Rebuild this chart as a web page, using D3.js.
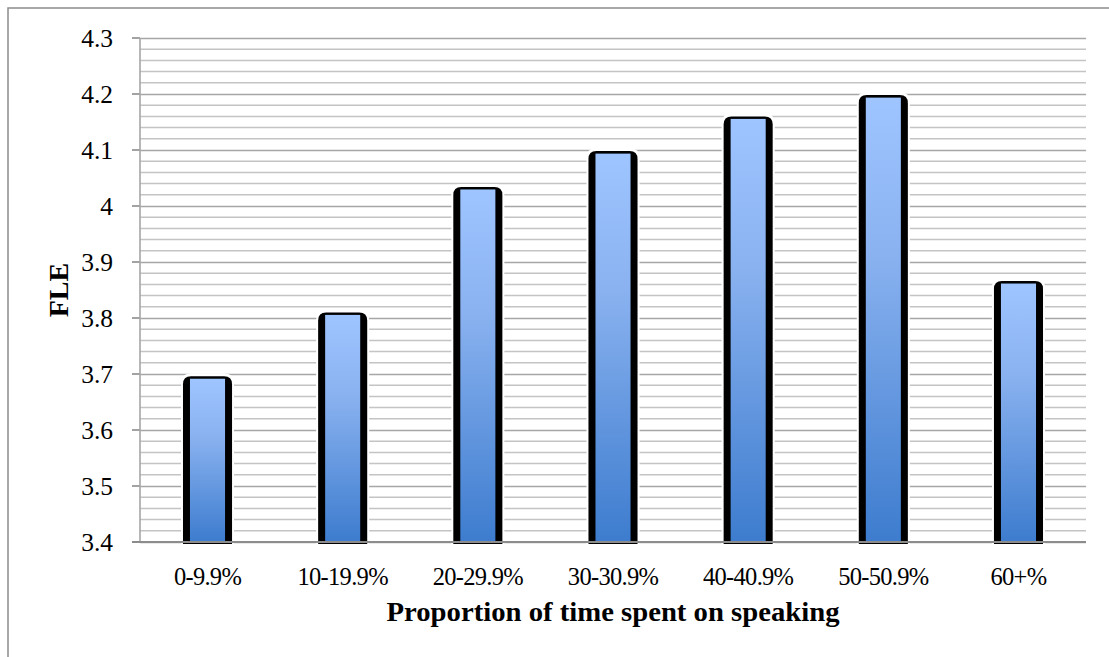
<!DOCTYPE html>
<html><head><meta charset="utf-8">
<script src="https://cdn.jsdelivr.net/npm/d3@7"></script>
<style>body{margin:0;background:#fff}</style>
</head><body>
<svg id="c" width="1109" height="657"></svg>
<script>
const categories = ["0-9.9%","10-19.9%","20-29.9%","30-30.9%","40-40.9%","50-50.9%","60+%"];
const values = [3.696, 3.81, 4.034, 4.098, 4.16, 4.198, 3.866];
const yTicks = [3.4,3.5,3.6,3.7,3.8,3.9,4,4.1,4.2,4.3];
const yTitle = "FLE";
const xTitle = "Proportion of time spent on speaking";

const svg = d3.select("#c");
const W = 1109, H = 657;
const m = {left:140, right:1086, top:38, bottom:542};
const font = "'Liberation Serif', 'Times New Roman', serif";

svg.append("rect").attr("x",0).attr("y",0).attr("width",W).attr("height",H).attr("fill","#fff");
svg.append("rect").attr("x",8).attr("y",8).attr("width",W+20).attr("height",H+20)
  .attr("fill","none").attr("stroke","#8c8c8c").attr("stroke-width",1.5);

const x = d3.scaleBand().domain(categories).range([m.left,m.right]).paddingInner(0.637).paddingOuter(0.318);
const y = d3.scaleLinear().domain([3.4,4.3]).range([m.bottom,m.top]);

const defs = svg.append("defs");
const g = defs.append("linearGradient").attr("id","bg").attr("x1",0).attr("y1",0).attr("x2",0).attr("y2",1);
g.append("stop").attr("offset","0%").attr("stop-color","#9ec5ff");
g.append("stop").attr("offset","35%").attr("stop-color","#8ab2f0");
g.append("stop").attr("offset","100%").attr("stop-color","#3d7cce");

// minor gridlines
const minor = d3.range(0,46).map(i => +(3.4 + i*0.02).toFixed(2)).filter(v => Math.round(v*100)%10 !== 0);
svg.append("g").selectAll("line").data(minor).join("line")
  .attr("x1",m.left).attr("x2",m.right).attr("y1",d=>y(d)).attr("y2",d=>y(d))
  .attr("stroke","#c4c4c4").attr("stroke-width",1.5);

// major gridlines via axis
const yAxis = d3.axisLeft(y).tickValues(yTicks).tickSize(-(m.right-m.left)).tickFormat(d3.format("~g")).tickPadding(0);
const ya = svg.append("g").attr("transform",`translate(${m.left},0)`).call(yAxis);
ya.select(".domain").remove();
ya.selectAll(".tick line").attr("stroke","#a6a6a6").attr("stroke-width",1.6);
ya.selectAll(".tick text").remove();
// tick marks
svg.append("g").selectAll("line").data(yTicks).join("line")
  .attr("x1",m.left-8).attr("x2",m.left).attr("y1",d=>y(d)).attr("y2",d=>y(d))
  .attr("stroke","#8c8c8c").attr("stroke-width",1.6);
svg.append("g").selectAll("text").data(yTicks).join("text")
  .attr("x",113).attr("y",d=>y(d)+8.5).attr("text-anchor","end")
  .attr("font-family",font).attr("font-size",25.5).attr("fill","#000")
  .text(d=>d3.format("~g")(d));

// bars
const bw = x.bandwidth();
const r = 8;
function topRounded(x0,y0,w,h,rr){
  return `M${x0},${y0+h} L${x0},${y0+rr} Q${x0},${y0} ${x0+rr},${y0} L${x0+w-rr},${y0} Q${x0+w},${y0} ${x0+w},${y0+rr} L${x0+w},${y0+h} Z`;
}
const bars = svg.append("g").selectAll("g").data(values).join("g");
bars.append("path").attr("d",(d,i)=>topRounded(x(categories[i])-2, y(d)-3, bw+4, m.bottom+2-y(d)+3, r+2)).attr("fill","#fff");
bars.append("path").attr("d",(d,i)=>topRounded(x(categories[i]), y(d), bw, m.bottom+2-y(d), r)).attr("fill","#000");
bars.append("rect").attr("x",(d,i)=>x(categories[i])+7).attr("y",d=>y(d)+2.5)
  .attr("width",bw-14).attr("height",d=>m.bottom-y(d)-2.5).attr("fill","url(#bg)");

// axes lines
svg.append("line").attr("x1",m.left).attr("x2",m.left).attr("y1",m.top).attr("y2",m.bottom)
  .attr("stroke","#a6a6a6").attr("stroke-width",1.6);
svg.append("line").attr("x1",m.left-8).attr("x2",m.right).attr("y1",m.bottom).attr("y2",m.bottom)
  .attr("stroke","#8c8c8c").attr("stroke-width",1.8);

// x labels
const xa = svg.append("g").attr("transform",`translate(0,${m.bottom})`)
  .call(d3.axisBottom(x).tickSize(0).tickPadding(0));
xa.select(".domain").remove();
xa.selectAll(".tick text").attr("y",43).attr("dy",0).attr("font-family",font).attr("font-size",24.5)
  .attr("fill","#000").attr("letter-spacing",-0.7);

svg.append("text").attr("x",(m.left+m.right)/2).attr("y",621).attr("text-anchor","middle")
  .attr("font-family",font).attr("font-weight","bold").attr("font-size",27).attr("fill","#000")
  .attr("textLength",453).attr("lengthAdjust","spacingAndGlyphs")
  .text(xTitle);
svg.append("text").attr("transform",`translate(68,${(m.top+m.bottom)/2}) rotate(-90)`).attr("text-anchor","middle")
  .attr("font-family",font).attr("font-weight","bold").attr("font-size",28).attr("fill","#000")
  .text(yTitle);
</script>
</body></html>
